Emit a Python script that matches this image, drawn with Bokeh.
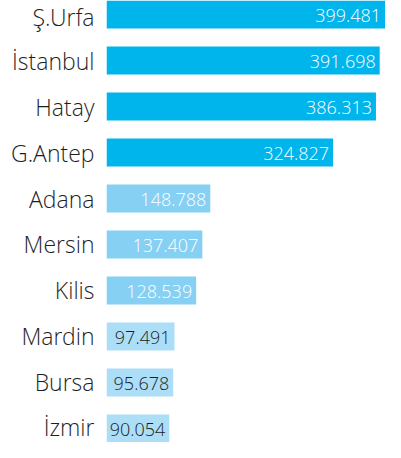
from bokeh.plotting import figure
from bokeh.models import ColumnDataSource, Range1d, FixedTicker, LinearAxis
from bokeh.embed import file_html
from bokeh.resources import INLINE
from bokeh.core.properties import value

cities = ["Ş.Urfa", "İstanbul", "Hatay", "G.Antep", "Adana", "Mersin", "Kilis", "Mardin", "Bursa", "İzmir"]
counts = [399.481, 391.698, 386.313, 324.827, 148.788, 137.407, 128.539, 97.491, 95.678, 90.054]
labels = ["399.481", "391.698", "386.313", "324.827", "148.788", "137.407", "128.539", "97.491", "95.678", "90.054"]

def bar_color(v):
    if v >= 300:
        return "#00b4ec"
    if v >= 100:
        return "#86d0f4"
    return "#acdef8"

def text_color(v):
    return "#ffffff" if v >= 100 else "#1e1e1e"

pos = list(range(len(cities)))
src = ColumnDataSource(dict(
    y=pos,
    v=counts,
    lab=labels,
    col=[bar_color(v) for v in counts],
    tcol=[text_color(v) for v in counts],
))

FONT = "Open Sans Light"
bar_h = 0.61
p = figure(width=385, height=442, output_backend="svg", toolbar_location=None,
           x_range=Range1d(0, 400), y_range=Range1d(len(cities) - 1 + bar_h / 2, -bar_h / 2),
           x_axis_location=None, y_axis_location=None,
           min_border_left=106, min_border_right=0, min_border_top=0, min_border_bottom=0)
p.outline_line_color = None
p.grid.visible = False
p.background_fill_color = "white"
p.border_fill_color = "white"

p.hbar(y="y", left=0, right="v", height=bar_h, fill_color="col", line_color=None, source=src)
p.text(x="v", y="y", text="lab", text_align="right", text_baseline="middle",
       x_offset=-4, y_offset=1, text_color="tcol", text_font=value(FONT),
       text_font_size="18px", source=src)

ax = LinearAxis(ticker=FixedTicker(ticks=pos),
                major_label_overrides={i: c for i, c in zip(pos, cities)})
ax.axis_line_color = None
ax.major_tick_line_color = None
ax.minor_tick_line_color = None
ax.major_tick_out = 0
ax.major_tick_in = 0
ax.major_label_standoff = 12
ax.major_label_text_font = FONT
ax.major_label_text_font_size = "23px"
ax.major_label_text_color = "#1e1e1e"
p.add_layout(ax, "left")

open("out.html", "w").write(file_html(p, INLINE))
